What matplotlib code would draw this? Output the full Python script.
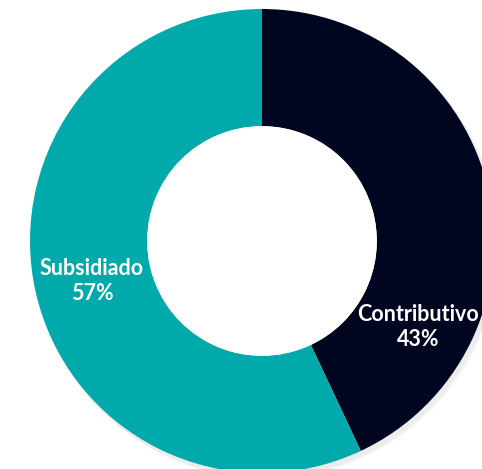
import matplotlib.pyplot as plt
from matplotlib.patches import Circle

labels = ['Contributivo', 'Subsidiado']
shares = [43, 57]
colors = ['#000520', '#00A9AA']

fig = plt.figure(figsize=(4.82, 4.69), dpi=100)
ax = fig.add_axes([0, 0, 1, 1])

cx, cy, r = 262, 228, 232
hole = 0.495

# soft shadow behind the ring
for i, a in enumerate([0.04, 0.05, 0.06]):
    ax.add_patch(Circle((cx + 2 + i, cy - 3 - i), r + 1, color='gray', alpha=a, lw=0, zorder=0))

ax.pie(shares, colors=colors, startangle=90, counterclock=False,
       center=(cx, cy), radius=r, frame=True,
       wedgeprops=dict(width=r * (1 - hole), edgecolor='none'))
ax.add_patch(Circle((cx, cy), r * hole, color='white', lw=0, zorder=5))
ax.set_xlim(0, 482)
ax.set_ylim(0, 469)
ax.set_aspect('equal')
ax.axis('off')

text_pos = [(418, 142), (92, 188)]
for lab, val, (x, y) in zip(labels, shares, text_pos):
    ax.text(x, y, f'{lab}\n{val}%', ha='center', va='center', color='white',
            fontsize=15.5, fontweight='bold', family='Lato', linespacing=1.2, zorder=6)

fig.savefig('out.png', dpi=100)
